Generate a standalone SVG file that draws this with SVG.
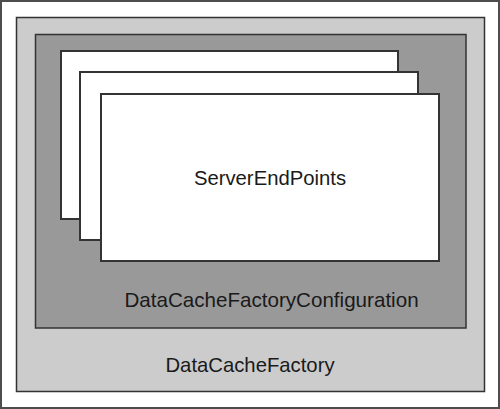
<svg xmlns="http://www.w3.org/2000/svg" width="500" height="409" viewBox="0 0 500 409">
<style>
.lbl{font-family:"Liberation Sans",Arial,sans-serif;font-size:20.3px;fill:#1a1a1a}
.card{fill:#ffffff;stroke:#333333;stroke-width:2}
</style>
<g id="outer">
<rect x="1" y="1" width="498" height="407" fill="#ffffff" stroke="#4d4d4d" stroke-width="2"/>
</g>
<g id="DataCacheFactory">
<rect x="16.5" y="17.5" width="468" height="374" fill="#cccccc" stroke="#333333" stroke-width="1.5"/>
<text class="lbl" x="250" y="372" text-anchor="middle">DataCacheFactory</text>
</g>
<g id="DataCacheFactoryConfiguration">
<rect x="35.5" y="34.5" width="430.5" height="293.5" fill="#999999" stroke="#333333" stroke-width="1.5"/>
<text class="lbl" x="271.5" y="307" text-anchor="middle" style="font-size:20.6px">DataCacheFactoryConfiguration</text>
</g>
<g id="ServerEndPoints">
<rect class="card" x="61" y="51" width="337" height="168"/>
<rect class="card" x="80" y="72" width="338" height="168"/>
<rect class="card" x="101" y="94" width="338" height="167"/>
<text class="lbl" x="270" y="185" text-anchor="middle">ServerEndPoints</text>
</g>
<g id="connectors"/>
</svg>
